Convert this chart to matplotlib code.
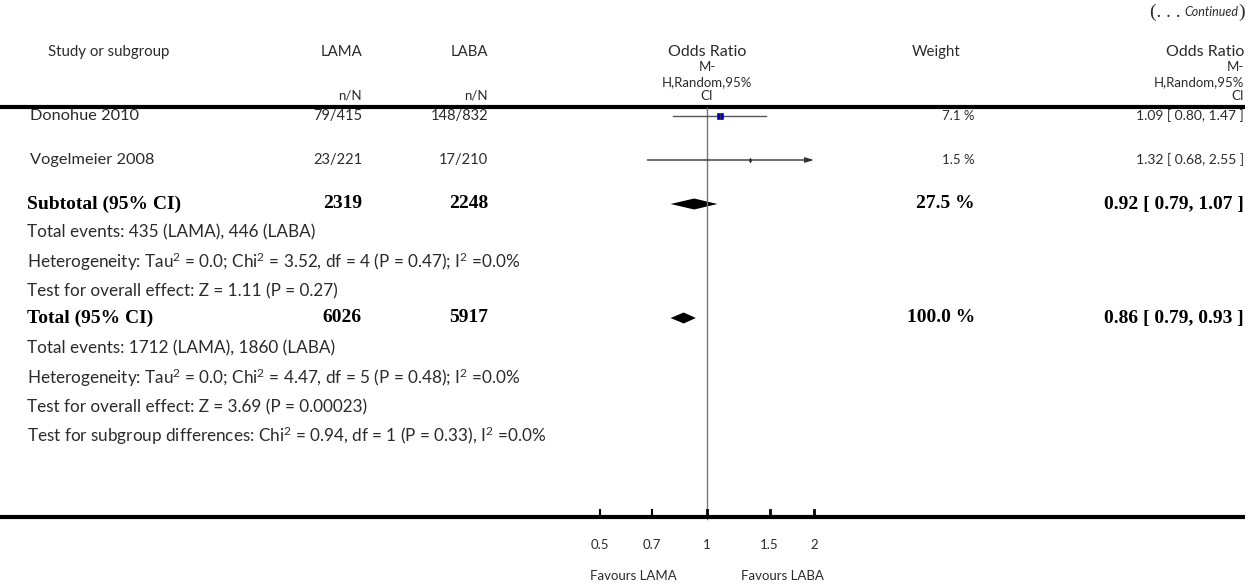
import numpy as np
import matplotlib
matplotlib.use("Agg")
from matplotlib import pyplot as plt

plt.rcParams["mathtext.fontset"] = "custom"
plt.rcParams["mathtext.rm"] = "Lato"
plt.rcParams["mathtext.it"] = "Lato:italic"

# study rows
studies = ["Donohue 2010", "Vogelmeier 2008"]
lama_nN = ["79/415", "23/221"]
laba_nN = ["148/832", "17/210"]
or_est = [1.09, 1.32]
or_lo = [0.80, 0.68]
or_hi = [1.47, 2.55]
weights = [7.1, 1.5]

# pooled rows
pooled_names = ["Subtotal (95% CI)", "Total (95% CI)"]
pooled_lama = [2319, 6026]
pooled_laba = [2248, 5917]
pooled_w = [27.5, 100.0]
pooled_est = [0.92, 0.86]
pooled_lo = [0.79, 0.79]
pooled_hi = [1.07, 0.93]

sq = r"$^{\mathrm{2}}$"
sub_notes = ["Total events: 435 (LAMA), 446 (LABA)",
             "Heterogeneity: Tau" + sq + " = 0.0; Chi" + sq + " = 3.52, df = 4 (P = 0.47); I" + sq + " =0.0%",
             "Test for overall effect: Z = 1.11 (P = 0.27)"]
tot_notes = ["Total events: 1712 (LAMA), 1860 (LABA)",
             "Heterogeneity: Tau" + sq + " = 0.0; Chi" + sq + " = 4.47, df = 5 (P = 0.48); I" + sq + " =0.0%",
             "Test for overall effect: Z = 3.69 (P = 0.00023)",
             "Test for subgroup differences: Chi" + sq + " = 0.94, df = 1 (P = 0.33), I" + sq + " =0.0%"]

ticks = [0.5, 0.7, 1, 1.5, 2]
tick_labels = ["0.5", "0.7", "1", "1.5", "2"]
favours = ["Favours LAMA", "Favours LABA"]

W, H = 1259, 584
fig = plt.figure(figsize=(W / 100, H / 100), dpi=100)
tx = fig.add_axes([0, 0, 1, 1])
tx.set_xlim(0, W)
tx.set_ylim(H, 0)
tx.axis("off")

# forest axes: 0.5 at x=600, 2 at x=814
x05, x2 = 600, 814
fx = fig.add_axes([x05 / W, 0, (x2 - x05) / W, 1])
fx.set_xscale("log")
fx.set_xlim(0.5, 2)
fx.set_ylim(H, 0)
fx.axis("off")

sans = dict(family=["Lato", "DejaVu Sans"], color="#2b2b2b")
serif = dict(family=["Liberation Serif", "DejaVu Serif"], fontweight="bold", color="black")
fs_head = 10.8
fs_name = 11.8
fs_note = 12.3
fs_nN = 10.5
fs_val = 10
sfs = 9.5
bfs = 14

# layout rows (pixel y)
y_hdr = 52
y_study = [116, 160]
y_sub = 204
y_sub_notes = [232, 262, 291]
y_tot = 318
y_tot_notes = [348, 378, 407, 436]
y_axis = 517

x_head = 48
x_name = 30
x_note = 27
x_lama = 362
x_laba = 488
x_w = 975
x_or = 1244

# header
tx.text(x_head, y_hdr, "Study or subgroup", fontsize=fs_head, va="center", **sans)
tx.text(x_lama, y_hdr, "LAMA", fontsize=fs_head, va="center", ha="right", **sans)
tx.text(x_laba, y_hdr, "LABA", fontsize=fs_head, va="center", ha="right", **sans)
tx.text(x_lama, 96, "n/N", fontsize=sfs, va="center", ha="right", **sans)
tx.text(x_laba, 96, "n/N", fontsize=sfs, va="center", ha="right", **sans)
tx.text(707, y_hdr, "Odds Ratio", fontsize=11.5, va="center", ha="center", **sans)
tx.text(707, 67, "M-", fontsize=sfs, va="center", ha="center", **sans)
tx.text(707, 82, "H,Random,95%", fontsize=sfs, va="center", ha="center", **sans)
tx.text(707, 96, "CI", fontsize=sfs, va="center", ha="center", **sans)
tx.text(936, y_hdr, "Weight", fontsize=fs_head, va="center", ha="center", **sans)
tx.text(x_or, y_hdr, "Odds Ratio", fontsize=11.5, va="center", ha="right", **sans)
tx.text(x_or, 67, "M-", fontsize=sfs, va="center", ha="right", **sans)
tx.text(x_or, 82, "H,Random,95%", fontsize=sfs, va="center", ha="right", **sans)
tx.text(x_or, 96, "CI", fontsize=sfs, va="center", ha="right", **sans)

# (... Continued)
fig.canvas.draw()
r = fig.canvas.get_renderer()
inv = tx.transData.inverted()
def width_of(t):
    bb = t.get_window_extent(renderer=r)
    return inv.transform((bb.x1, 0))[0] - inv.transform((bb.x0, 0))[0]
t1 = tx.text(1245, 12, ")", fontsize=14, va="center", ha="right",
             family=["Liberation Serif"], color="#2b2b2b")
xr = 1245 - width_of(t1)
t2 = tx.text(xr, 12, "Continued", fontsize=9, va="center", ha="right",
             family=["Lato", "DejaVu Sans"], fontstyle="italic", color="#2b2b2b")
xr -= width_of(t2) + 4
tx.text(xr, 12, "(. . .", fontsize=14, va="center", ha="right",
        family=["Liberation Serif"], color="#2b2b2b")

# lines
tx.plot([0, 1245], [107, 107], color="black", lw=3, solid_capstyle="butt")
tx.plot([0, 1245], [y_axis, y_axis], color="black", lw=3, solid_capstyle="butt")
fx.plot([1, 1], [108, y_axis + 2], color="#777777", lw=1, clip_on=False)
for t, lab in zip(ticks, tick_labels):
    fx.plot([t, t], [y_axis - 7, y_axis], color="black", lw=1.5 if t < 1 else 2, clip_on=False)
    fx.text(t, 545, lab, fontsize=sfs, ha="center", va="center", clip_on=False, **sans)
fx.text(0.62, 576, favours[0], fontsize=sfs, ha="center", va="center", **sans)
fx.text(1.63, 576, favours[1], fontsize=sfs, ha="center", va="center", **sans)

# study rows
for i in range(len(studies)):
    y = y_study[i]
    tx.text(x_name, y, studies[i], fontsize=fs_name, va="center", **sans)
    tx.text(x_lama, y, lama_nN[i], fontsize=fs_nN, va="center", ha="right", **sans)
    tx.text(x_laba, y, laba_nN[i], fontsize=fs_nN, va="center", ha="right", **sans)
    tx.text(x_w, y, "%.1f %%" % weights[i], fontsize=sfs, va="center", ha="right", **sans)
    tx.text(x_or, y, "%.2f [ %.2f, %.2f ]" % (or_est[i], or_lo[i], or_hi[i]),
            fontsize=fs_val, va="center", ha="right", **sans)
    hi = min(or_hi[i], 2)
    if or_hi[i] > 2:
        fx.annotate("", xy=(hi, y), xytext=(or_lo[i], y),
                    arrowprops=dict(arrowstyle="-|>,head_length=0.5,head_width=0.15",
                                    color="#333333", lw=1, shrinkA=0, shrinkB=0))
    else:
        fx.plot([or_lo[i], hi], [y, y], color="#555555", lw=1)
    side = 2.3 * np.sqrt(weights[i])
    fx.plot(or_est[i], y, marker="s", ms=side * 0.72, mfc="#0000dd",
            mec="#0000dd" if weights[i] > 3 else "#333333", mew=0.5)
    fx.plot([or_est[i], or_est[i]], [y - 2, y + 2], color="#333333", lw=0.8)

# pooled rows
y_pool = [y_sub, y_tot]
for i in range(len(pooled_names)):
    y = y_pool[i]
    tx.text(x_note, y, pooled_names[i], fontsize=bfs, va="center", **serif)
    tx.text(x_lama, y, str(pooled_lama[i]), fontsize=bfs, va="center", ha="right", **serif)
    tx.text(x_laba, y, str(pooled_laba[i]), fontsize=bfs, va="center", ha="right", **serif)
    tx.text(x_w, y, "%.1f %%" % pooled_w[i], fontsize=bfs, va="center", ha="right", **serif)
    tx.text(x_or, y, "%.2f [ %.2f, %.2f ]" % (pooled_est[i], pooled_lo[i], pooled_hi[i]),
            fontsize=bfs, va="center", ha="right", **serif)
    dx = [pooled_lo[i], pooled_est[i], pooled_hi[i], pooled_est[i]]
    dy = [y, y - 5.5, y, y + 5.5]
    fx.fill(dx, dy, color="black", lw=0)

for y, s in zip(y_sub_notes, sub_notes):
    tx.text(x_note, y, s, fontsize=fs_note, va="center", **sans)
for y, s in zip(y_tot_notes, tot_notes):
    tx.text(x_note, y, s, fontsize=fs_note, va="center", **sans)

fig.savefig("out.png", dpi=100)
